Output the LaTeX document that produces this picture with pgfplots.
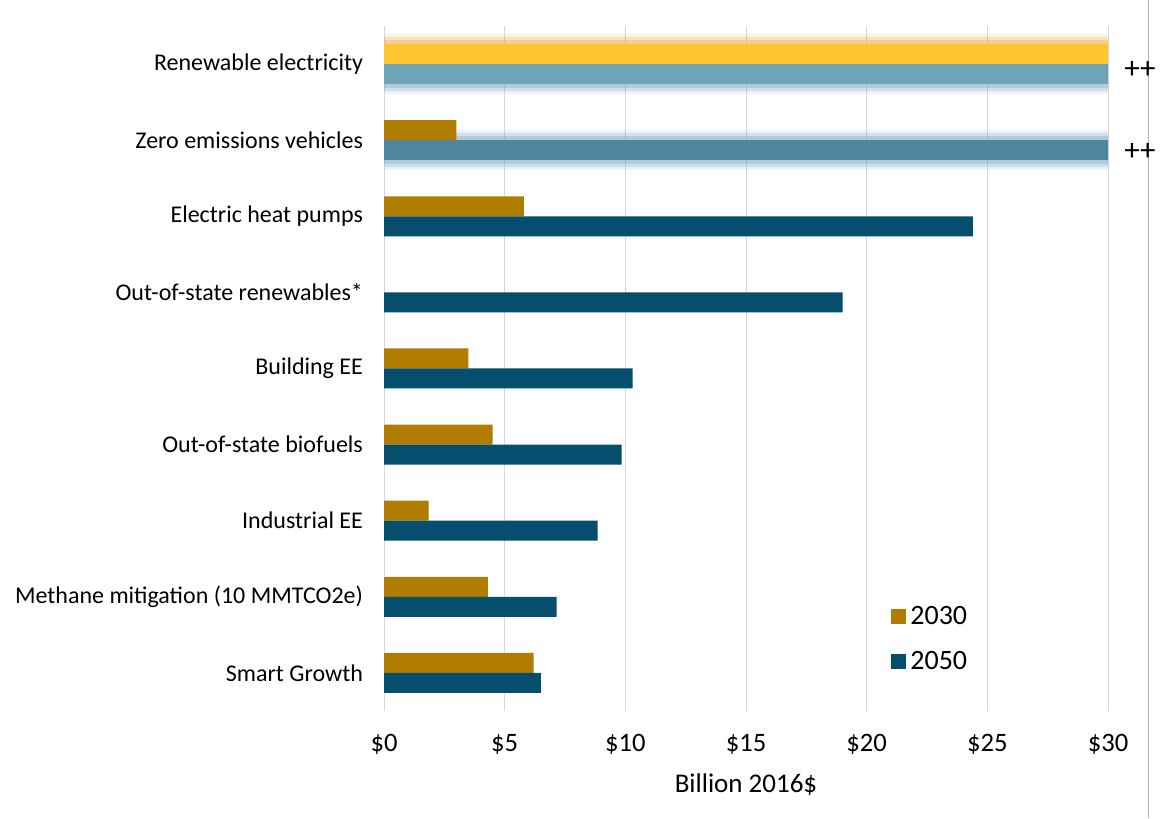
\documentclass[border=0pt]{standalone}
\usepackage{pgfplots}
\pgfplotsset{compat=1.18}
\usepackage{fontspec}
\setmainfont{Carlito}
\definecolor{gold}{HTML}{B07D00}
\definecolor{navy}{HTML}{064E6D}
\definecolor{hiyellow}{HTML}{FFC533}
\definecolor{hiteal}{HTML}{6FA3B8}
\definecolor{hiteal2}{HTML}{4E86A0}
\definecolor{glowy}{HTML}{F2B04A}
\definecolor{glowb}{HTML}{7FAAC2}
\begin{document}
\begin{tikzpicture}
\useasboundingbox (0,0) rectangle (580pt,409pt);
\draw[color=black!30, line width=0.5pt] (574pt,0) -- (574pt,409pt);
\begin{axis}[
  at={(192pt,53.5pt)}, anchor=south west,
  scale only axis, width=362pt, height=342.5pt,
  xmin=0, xmax=30, ymin=-0.5, ymax=8.5,
  xtick={0,5,...,30},
  xticklabels={\$0,\$5,\$10,\$15,\$20,\$25,\$30},
  ytick={0,...,8},
  yticklabels={Smart Growth, Methane mitigation (10 MMTCO2e), Industrial EE, Out-of-state biofuels, Building EE, Out-of-state renewables*, Electric heat pumps, Zero emissions vehicles, Renewable electricity},
  major tick length=0pt,
  xmajorgrids, grid style={color=black!16, line width=0.5pt},
  axis line style={draw=none},
  xticklabel style={font=\fontsize{13.3}{15}\selectfont, yshift=-8pt},
  yticklabel style={font=\fontsize{12}{14}\selectfont, xshift=-7pt},
  xlabel={Billion 2016\$},
  xlabel style={font=\fontsize{13.5}{16}\selectfont, at={(axis description cs:0.5,0)}, anchor=center, yshift=-37pt},
  clip=false,
  legend style={draw=none, fill=none, at={(axis cs:20.75,0.99)}, anchor=north west,
    font=\fontsize{14}{16}\selectfont, row sep=8pt},
  legend cell align=left,
  legend image code/.code={\fill[#1] (0pt,-3.8pt) rectangle (7.6pt,3.8pt);},
]
% glows
\addplot[xbar, bar width=20pt, bar shift=5pt, fill=glowy, fill opacity=0.15, draw=none, forget plot] coordinates {(30,8)};
\addplot[xbar, bar width=17pt, bar shift=5pt, fill=glowy, fill opacity=0.25, draw=none, forget plot] coordinates {(30,8)};
\addplot[xbar, bar width=14pt, bar shift=5pt, fill=glowy, fill opacity=0.4, draw=none, forget plot] coordinates {(30,8)};
\addplot[xbar, bar width=20pt, bar shift=-5pt, fill=glowb, fill opacity=0.15, draw=none, forget plot] coordinates {(30,8) (30,7)};
\addplot[xbar, bar width=17pt, bar shift=-5pt, fill=glowb, fill opacity=0.25, draw=none, forget plot] coordinates {(30,8) (30,7)};
\addplot[xbar, bar width=14pt, bar shift=-5pt, fill=glowb, fill opacity=0.4, draw=none, forget plot] coordinates {(30,8) (30,7)};
% normal bars
\addplot[xbar, bar width=10pt, bar shift=5pt, fill=gold, draw=none] coordinates {
  (6.2,0) (4.3,1) (1.85,2) (4.5,3) (3.5,4) (5.8,6) (3.0,7)};
\addplot[xbar, bar width=10pt, bar shift=-5pt, fill=navy, draw=none] coordinates {
  (6.5,0) (7.15,1) (8.85,2) (9.85,3) (10.3,4) (19.0,5) (24.4,6)};
% highlighted (off-scale) bars
\addplot[xbar, bar width=10pt, bar shift=5pt, fill=hiyellow, draw=none, forget plot] coordinates {(30,8)};
\addplot[xbar, bar width=10pt, bar shift=-5pt, fill=hiteal, draw=none, forget plot] coordinates {(30,8)};
\addplot[xbar, bar width=10pt, bar shift=-5pt, fill=hiteal2, draw=none, forget plot] coordinates {(30,7)};
\legend{2030,2050}
\node[anchor=west, font=\fontsize{15.5}{18}\selectfont, inner sep=0pt] at (axis cs:30,8) [xshift=8pt, yshift=-3pt] {++};
\node[anchor=west, font=\fontsize{15.5}{18}\selectfont, inner sep=0pt] at (axis cs:30,7) [xshift=8pt, yshift=-6pt] {++};
\end{axis}
\end{tikzpicture}
\end{document}
